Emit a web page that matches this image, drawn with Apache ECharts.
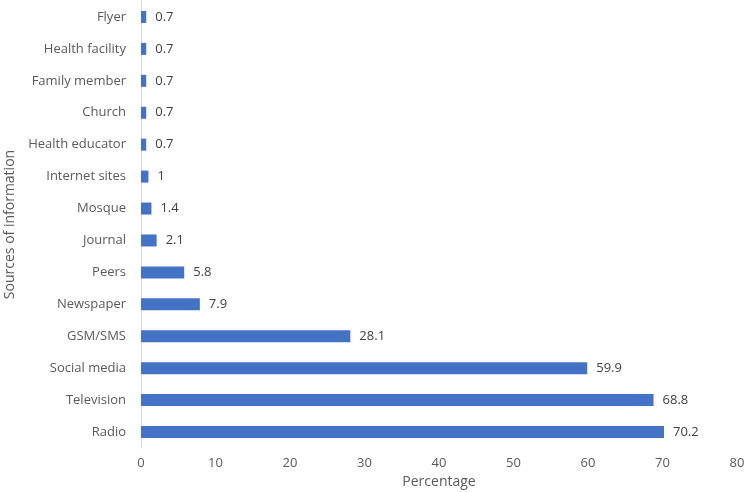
<!DOCTYPE html>
<html><head><meta charset="utf-8">
<script src="https://cdn.jsdelivr.net/npm/echarts@6/dist/echarts.min.js"></script>
<style>html,body{margin:0;padding:0;background:#fff}#c{width:750px;height:492px}</style>
</head><body><div id="c"></div>
<script>
const categories = ["Radio","Television","Social media","GSM/SMS","Newspaper","Peers","Journal","Mosque","Internet sites","Health educator","Church","Family member","Health facility","Flyer"];
const values = [70.2,68.8,59.9,28.1,7.9,5.8,2.1,1.4,1,0.7,0.7,0.7,0.7,0.7];
const xTicks = {min:0, max:80, interval:10};
const font = "'Open Sans', 'Liberation Sans', sans-serif";
const chart = echarts.init(document.getElementById('c'));
chart.setOption({
  animation:false,
  grid:{left:141, right:13, top:1, height:447, outerBoundsMode:'none', containLabel:false},
  xAxis:{type:'value', min:xTicks.min, max:xTicks.max, interval:xTicks.interval,
    name:'Percentage', nameLocation:'middle', nameGap:25,
    nameTextStyle:{color:'#595959', fontSize:14, fontFamily:font},
    axisLine:{show:false}, axisTick:{show:false}, splitLine:{show:false},
    axisLabel:{color:'#595959', fontSize:13, fontFamily:font, margin:9}},
  yAxis:{type:'category', data:categories,
    name:'Sources of information', nameLocation:'middle', nameGap:116,
    nameTextStyle:{color:'#595959', fontSize:14, fontFamily:font},
    axisLine:{show:true, lineStyle:{color:'#d9d9d9', width:1}}, axisTick:{show:false},
    axisLabel:{color:'#595959', fontSize:13, fontFamily:font, margin:15}},
  series:[{type:'bar', data:values, barWidth:12, itemStyle:{color:'#4472C4'},
    label:{show:true, position:'right', distance:9, color:'#404040', fontSize:13, fontFamily:font}}]
});
</script></body></html>
